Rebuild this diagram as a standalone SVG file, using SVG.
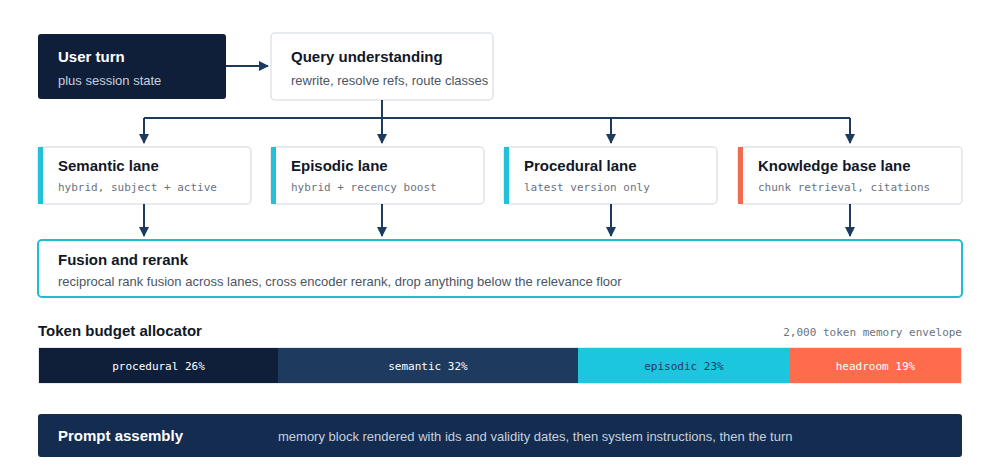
<svg xmlns="http://www.w3.org/2000/svg" width="1000" height="467" viewBox="0 0 1000 467">
<style>
.t{font-family:"Liberation Sans",Arial,sans-serif;font-weight:bold;font-size:15px;fill:#111827}
.s{font-family:"Liberation Sans",Arial,sans-serif;font-size:13px;fill:#4b5563}
.m{font-family:"DejaVu Sans Mono",monospace;font-size:11px;fill:#6b7280}
.card{fill:#fff;stroke:#dfe3ea;stroke-width:1.5}
.c{stroke:#1e3a5f;stroke-width:2;fill:none}
.bl{font-family:"DejaVu Sans Mono",monospace;font-size:11px;text-anchor:middle}
</style>
<defs><marker id="a" markerWidth="10" markerHeight="10" refX="9" refY="5" orient="auto" markerUnits="userSpaceOnUse"><path d="M0,0L10,5L0,10z" fill="#1e3a5f"/></marker></defs>
<rect width="1000" height="467" fill="#fff"/>
<g id="user"><rect x="38" y="34" width="188" height="65" rx="3" fill="#0f1f3a"/><text x="58" y="62" class="t" style="fill:#fff">User turn</text><text x="58" y="85" class="s" style="fill:#c7d0de">plus session state</text></g>
<g id="query"><rect x="271" y="33" width="222" height="67" rx="4" class="card"/><text x="291" y="62" class="t">Query understanding</text><text x="291" y="85" class="s">rewrite, resolve refs, route classes</text></g>
<g id="semantic"><rect x="38" y="147" width="213" height="57" rx="4" class="card"/><rect x="38" y="147" width="5" height="57" fill="#22c1d9"/><text x="58" y="171" class="t">Semantic lane</text><text x="58" y="191" class="m">hybrid, subject + active</text></g>
<g id="episodic"><rect x="271" y="147" width="213" height="57" rx="4" class="card"/><rect x="271" y="147" width="5" height="57" fill="#22c1d9"/><text x="291" y="171" class="t">Episodic lane</text><text x="291" y="191" class="m">hybrid + recency boost</text></g>
<g id="procedural"><rect x="504" y="147" width="213" height="57" rx="4" class="card"/><rect x="504" y="147" width="5" height="57" fill="#22c1d9"/><text x="524" y="171" class="t">Procedural lane</text><text x="524" y="191" class="m">latest version only</text></g>
<g id="kb"><rect x="738" y="147" width="224" height="57" rx="4" class="card"/><rect x="738" y="147" width="5" height="57" fill="#f26a4f"/><text x="758" y="171" class="t">Knowledge base lane</text><text x="758" y="191" class="m">chunk retrieval, citations</text></g>
<g id="fusion"><rect x="38" y="240" width="924" height="57" rx="4" fill="#fff" stroke="#22bccf" stroke-width="2"/><text x="58" y="265" class="t">Fusion and rerank</text><text x="58" y="286" class="s">reciprocal rank fusion across lanes, cross encoder rerank, drop anything below the relevance floor</text></g>
<g id="budget"><text x="38" y="336" class="t">Token budget allocator</text><text x="962" y="336" class="m" text-anchor="end">2,000 token memory envelope</text>
<rect x="38" y="347" width="924" height="37" fill="#e5e9ef"/>
<rect x="39" y="348" width="239" height="35" fill="#0f1f3a"/><text x="158.5" y="370" class="bl" fill="#fff">procedural 26%</text>
<rect x="278" y="348" width="300" height="35" fill="#1e3a5f"/><text x="428" y="370" class="bl" fill="#fff">semantic 32%</text>
<rect x="578" y="348" width="212" height="35" fill="#1cc6df"/><text x="684" y="370" class="bl" fill="#1e3a5f">episodic 23%</text>
<rect x="790" y="348" width="171" height="35" fill="#ff6b4d"/><text x="875.5" y="370" class="bl" fill="#fff">headroom 19%</text></g>
<g id="prompt"><rect x="38" y="414" width="924" height="43" rx="3" fill="#132c4f"/><text x="58" y="441" class="t" style="fill:#fff">Prompt assembly</text><text x="278" y="441" class="s" style="fill:#c7d0de">memory block rendered with ids and validity dates, then system instructions, then the turn</text></g>
<g id="connectors" class="c">
<path d="M226,66H268" marker-end="url(#a)"/>
<path d="M382,100V118M144,118H850"/>
<path d="M144,118V143" marker-end="url(#a)"/><path d="M382,118V143" marker-end="url(#a)"/><path d="M611,118V143" marker-end="url(#a)"/><path d="M850,118V143" marker-end="url(#a)"/>
<path d="M144,204V236" marker-end="url(#a)"/><path d="M382,204V236" marker-end="url(#a)"/><path d="M611,204V236" marker-end="url(#a)"/><path d="M850,204V236" marker-end="url(#a)"/>
</g>
</svg>
